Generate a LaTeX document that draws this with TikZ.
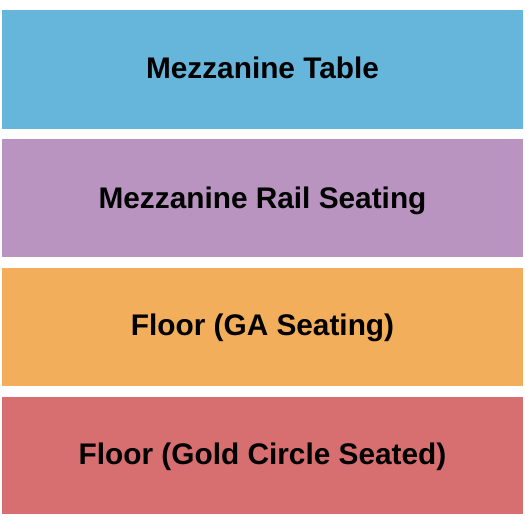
\documentclass[tikz,border=0pt]{standalone}
\usepackage{fontspec}
\setmainfont{Liberation Sans}
\definecolor{cblue}{RGB}{102,182,220}
\definecolor{cpurple}{RGB}{185,148,193}
\definecolor{corange}{RGB}{243,174,91}
\definecolor{cred}{RGB}{215,110,111}
\tikzset{
  label/.style={anchor=base, inner sep=0pt, font=\fontsize{29.8}{31}\selectfont\bfseries, text=black}
}
\begin{document}
\begin{tikzpicture}[x=1pt,y=-1pt]
\useasboundingbox (0,0) rectangle (525,525);
\fill[white] (0,0) rectangle (525,525);
\fill[cblue]   (2,10)  rectangle (523,128.5);
\fill[cpurple] (2,139) rectangle (523,257.2);
\fill[corange] (2,268) rectangle (523,385.7);
\fill[cred]    (2,397) rectangle (523,514.3);
\node[label] (t1) at (262.5,78.3) {Mezzanine Table};
\node[label] (t2) at (262.5,208.3) {Mezzanine Rail Seating};
\node[label] (t3) at (262.5,335.3) {Floor (GA Seating)};
\node[label] (t4) at (262.5,464.2) {Floor (Gold Circle Seated)};
\end{tikzpicture}
\end{document}
